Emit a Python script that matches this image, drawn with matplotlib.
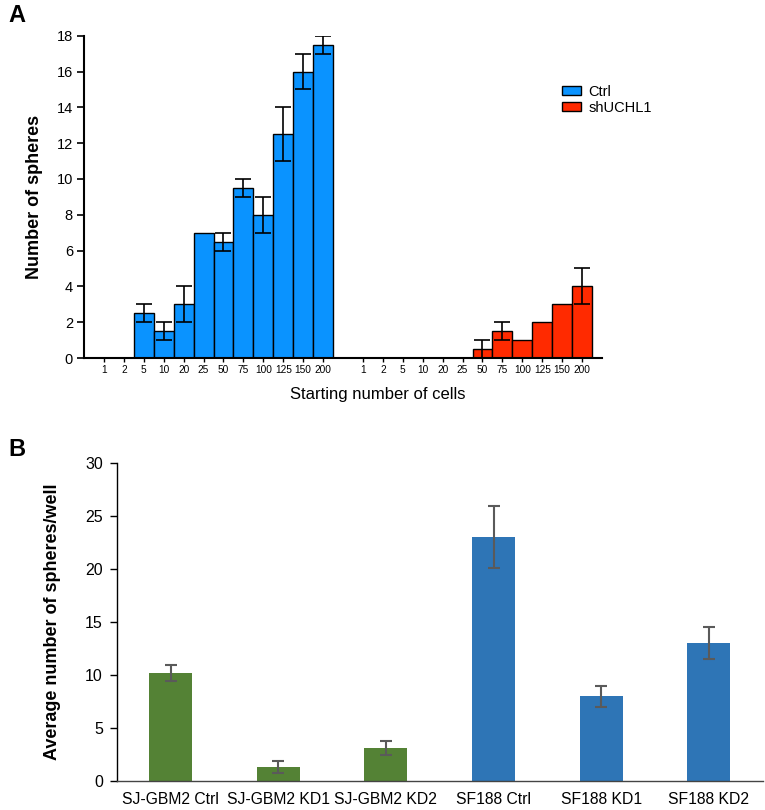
import matplotlib
matplotlib.use("Agg")
import matplotlib.pyplot as plt
import numpy as np

plt.rcParams['font.family'] = ['Liberation Sans', 'DejaVu Sans']

# ---------- Panel A data ----------
cell_labels = ["1", "2", "5", "10", "20", "25", "50", "75", "100", "125", "150", "200"]
ctrl_vals = [0, 0, 2.5, 1.5, 3, 7, 6.5, 9.5, 8, 12.5, 16, 17.5]
ctrl_err = [0, 0, 0.5, 0.5, 1, 0, 0.5, 0.5, 1, 1.5, 1, 0.5]
sh_vals = [0, 0, 0, 0, 0, 0, 0.5, 1.5, 1, 2, 3, 4]
sh_err = [0, 0, 0, 0, 0, 0, 0.5, 0.5, 0, 0, 0, 1]
series_names = ["Ctrl", "shUCHL1"]
colors_A = ["#0a93ff", "#ff2a00"]

# ---------- Panel B data ----------
groups_B = ["SJ-GBM2 Ctrl", "SJ-GBM2 KD1", "SJ-GBM2 KD2", "SF188 Ctrl", "SF188 KD1", "SF188 KD2"]
vals_B = [10.2, 1.33, 3.1, 23.0, 8.0, 13.0]
err_B = [0.75, 0.58, 0.65, 2.9, 1.0, 1.5]
colors_B = ["#548235", "#548235", "#548235", "#2e75b6", "#2e75b6", "#2e75b6"]

W, H = 765, 810
fig = plt.figure(figsize=(W / 100, H / 100), dpi=100)

# ---------- Panel A ----------
axA = fig.add_axes([84 / W, 1 - 358 / H, 518 / W, 322.3 / H])
n = len(cell_labels)
pos_ctrl = np.arange(n)
pos_sh = np.arange(n) + n + 1
axA.bar(pos_ctrl, ctrl_vals, width=1.0, color=colors_A[0], edgecolor="black", linewidth=1.0,
        label=series_names[0], zorder=2)
axA.bar(pos_sh, sh_vals, width=1.0, color=colors_A[1], edgecolor="black", linewidth=1.0,
        label=series_names[1], zorder=2)
for pos, v, e in [(pos_ctrl, ctrl_vals, ctrl_err), (pos_sh, sh_vals, sh_err)]:
    v = np.array(v); e = np.array(e)
    m = e > 0
    axA.errorbar(pos[m], v[m], yerr=e[m], fmt="none", ecolor="black", elinewidth=1.2,
                 capsize=5.5, capthick=1.2, zorder=3)
axA.set_xlim(-1, 2 * n + 1)
axA.set_ylim(0, 18)
axA.set_yticks(np.arange(0, 19, 2))
axA.set_xticks(np.concatenate([pos_ctrl, pos_sh]))
axA.set_xticklabels(cell_labels + cell_labels, fontsize=7.3)
axA.tick_params(axis="y", labelsize=10.5, length=5, width=1.2, direction="out", pad=3)
axA.tick_params(axis="x", length=3, width=1.0, direction="out", pad=2)
for s in ["top", "right"]:
    axA.spines[s].set_visible(False)
for s in ["left", "bottom"]:
    axA.spines[s].set_linewidth(1.5)
axA.set_ylabel("Number of spheres", fontsize=13, fontweight="bold", labelpad=10)
fig.text(378 / W, 1 - 394 / H, "Starting number of cells", fontsize=12, ha="center", va="center")
fig.legend(loc="upper left", bbox_to_anchor=(562 / W, 1 - 85 / H), frameon=False, fontsize=10.5,
           handlelength=1.3, handleheight=0.6, handletextpad=0.5, labelspacing=0.12,
           borderaxespad=0, borderpad=0)

fig.text(8 / W, 1 - 16 / H, "A", fontsize=17, fontweight="bold", ha="left", va="center")

# ---------- Panel B ----------
axB = fig.add_axes([116.7 / W, 1 - 781 / H, 646 / W, 318.3 / H])
xB = np.arange(len(groups_B))
axB.bar(xB, vals_B, width=0.4, color=colors_B, zorder=2)
axB.errorbar(xB, vals_B, yerr=err_B, fmt="none", ecolor="#5a5a5a", elinewidth=1.5,
             capsize=4, capthick=1.5, zorder=3)
axB.set_xlim(-0.5, len(groups_B) - 0.5)
axB.set_ylim(0, 30)
axB.set_yticks(np.arange(0, 31, 5))
axB.set_xticks(xB)
axB.set_xticklabels(groups_B, fontsize=11.3)
axB.tick_params(axis="x", length=0, pad=8)
axB.tick_params(axis="y", labelsize=11.5, length=5, width=1.0, direction="out", pad=5)
for s in ["top", "right"]:
    axB.spines[s].set_visible(False)
axB.spines["left"].set_linewidth(1.0)
axB.spines["bottom"].set_linewidth(1.0)
axB.spines["bottom"].set_color("#444444")
axB.set_ylabel("Average number of spheres/well", fontsize=13, fontweight="bold", labelpad=17)

fig.text(8 / W, 1 - 450 / H, "B", fontsize=17, fontweight="bold", ha="left", va="center")

fig.savefig("out.png", dpi=100)
